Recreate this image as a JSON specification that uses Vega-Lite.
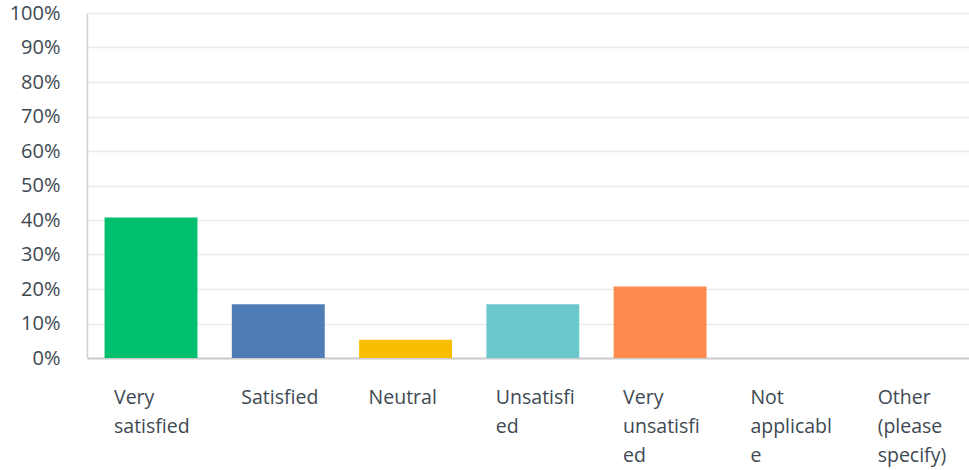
{
  "$schema": "https://vega.github.io/schema/vega-lite/v6.json",
  "width": 882,
  "height": 345,
  "autosize": "none",
  "padding": {"left": 87, "top": 13, "right": 0, "bottom": 112},
  "background": "white",
  "config": {"view": {"stroke": null}},
  "data": {
    "values": [
      {"answer": "Very satisfied", "share": 0.407},
      {"answer": "Satisfied", "share": 0.156},
      {"answer": "Neutral", "share": 0.053},
      {"answer": "Unsatisfied", "share": 0.156},
      {"answer": "Very unsatisfied", "share": 0.207},
      {"answer": "Not applicable", "share": 0},
      {"answer": "Other (please specify)", "share": 0}
    ]
  },
  "mark": {"type": "bar"},
  "encoding": {
    "x": {
      "field": "answer",
      "type": "nominal",
      "sort": null,
      "scale": {"paddingInner": 0.27, "paddingOuter": 0.1, "align": 0.69},
      "axis": {
        "title": null,
        "domain": true,
        "domainColor": "#cccccc",
        "domainWidth": 2,
        "ticks": false,
        "grid": false,
        "labelAngle": 0,
        "labelAlign": "left",
        "labelBaseline": "alphabetic",
        "labelOffset": -37,
        "labelPadding": 45,
        "labelFont": "Open Sans",
        "labelFontSize": 19.5,
        "labelLineHeight": 29,
        "labelColor": "#3e4953",
        "labelLimit": 0,
        "labelOverlap": false,
        "labelExpr": "datum.value == 'Very satisfied' ? ['Very','satisfied'] : datum.value == 'Unsatisfied' ? ['Unsatisfi','ed'] : datum.value == 'Very unsatisfied' ? ['Very','unsatisfi','ed'] : datum.value == 'Not applicable' ? ['Not','applicabl','e'] : datum.value == 'Other (please specify)' ? ['Other','(please','specify)'] : datum.value"
      }
    },
    "y": {
      "field": "share",
      "type": "quantitative",
      "scale": {"domain": [0, 1], "nice": false},
      "axis": {
        "title": null,
        "values": [0, 0.1, 0.2, 0.3, 0.4, 0.5, 0.6, 0.7, 0.8, 0.9, 1],
        "format": ".0%",
        "domain": true,
        "domainColor": "#d0d0d0",
        "domainWidth": 1.5,
        "ticks": false,
        "grid": true,
        "gridColor": "#ebebeb",
        "gridWidth": 1.5,
        "labelPadding": 27,
        "labelFont": "Open Sans",
        "labelFontSize": 20,
        "labelColor": "#3e4953",
        "labelBaseline": "middle"
      }
    },
    "color": {
      "field": "answer",
      "type": "nominal",
      "sort": null,
      "scale": {
        "domain": ["Very satisfied", "Satisfied", "Neutral", "Unsatisfied", "Very unsatisfied", "Not applicable", "Other (please specify)"],
        "range": ["#00bf6f", "#507cb6", "#f9be00", "#6bc8cd", "#ff8b4f", "#7d9e3c", "#d25f90"]
      },
      "legend": null
    }
  }
}
